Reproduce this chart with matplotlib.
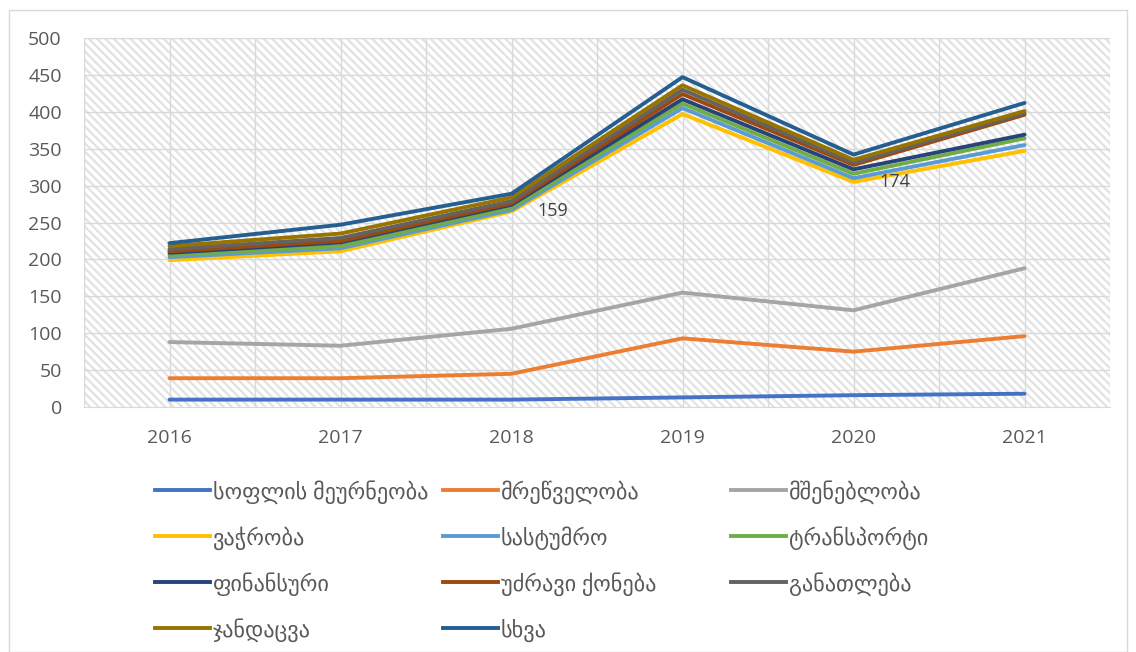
import numpy as np
import matplotlib
matplotlib.use("Agg")
import matplotlib.pyplot as plt
from matplotlib.lines import Line2D
from matplotlib.patches import Rectangle

plt.rcParams['font.family'] = ['Open Sans', 'DejaVu Sans']
plt.rcParams['hatch.color'] = '#e2e2e2'
plt.rcParams['hatch.linewidth'] = 1.6

# data (stacked line chart, values per sector)
years = ["2016", "2017", "2018", "2019", "2020", "2021"]
names = ["სოფლის მეურნეობა", "მრეწველობა", "მშენებლობა",
         "ვაჭრობა", "სასტუმრო", "ტრანსპორტი",
         "ფინანსური", "უძრავი ქონება", "განათლება",
         "ჯანდაცვა", "სხვა"]
agri = [10, 10, 10, 13, 16, 18]
industry = [29, 29, 35, 80, 59, 78]
construction = [49, 44, 61, 62, 56, 92]
trade = [111, 128, 159, 242, 174, 159]
hotels = [4, 4, 2, 8, 5, 8]
transport = [3, 3, 3, 6, 6, 9]
finance = [3, 5, 4, 6, 6, 5]
real_estate = [2, 2, 2, 7, 6, 27]
education = [3, 4, 3, 6, 3, 2]
health = [4, 6, 5, 6, 4, 3]
other = [4, 12, 5, 11, 7, 11]
series = [agri, industry, construction, trade, hotels, transport,
          finance, real_estate, education, health, other]
colors = ["#4472C4", "#ED7D31", "#A5A5A5", "#FFC000", "#5B9BD5", "#70AD47",
          "#264478", "#9E480E", "#636363", "#997300", "#255E91"]

# labels shown only for trade in 2018 and 2020
label_idx = [2, 4]

fig = plt.figure(figsize=(11.36, 6.52), dpi=100)
ax = fig.add_axes([84/1136, 1-407/652, (1110-84)/1136, (407-38)/652])

ax.patch.set_facecolor('white')
ax.patch.set_hatch('\\' * 4)
ax.patch.set_edgecolor('#e2e2e2')
ax.patch.set_linewidth(0)

x = np.arange(len(years))
cum = np.cumsum(np.array(series), axis=0)

for i in range(len(series)):
    ax.plot(x, cum[i], color=colors[i], lw=2.8, solid_capstyle='round', zorder=3)

for j in label_idx:
    ax.text(x[j] + 0.15, cum[3][j], str(trade[j]), fontsize=13,
            color='#404040', va='center', ha='left', zorder=4)

ax.set_xlim(-0.5, len(years) - 0.5)
ax.set_ylim(0, 500)
ax.set_yticks(np.arange(0, 501, 50))
ax.set_xticks(x)
ax.set_xticklabels(years)
for v in np.arange(50, 501, 50):
    ax.axhline(v, color='#d9d9d9', lw=1, zorder=1)
for v in np.arange(-0.5, len(years), 0.5):
    ax.axvline(v, color='#d9d9d9', lw=1, zorder=1)
for s in ['top', 'right', 'left']:
    ax.spines[s].set_visible(False)
ax.spines['bottom'].set_color('#d9d9d9')
ax.tick_params(length=0, labelsize=14, colors='#595959')
ax.tick_params(axis='x', pad=16)
ax.tick_params(axis='y', pad=16)

# legend, 3 equal columns like the original
for i, name in enumerate(names):
    row, col = divmod(i, 3)
    x0 = (155 + col * 288) / 1136
    yy = 1 - (490 + row * 46) / 652
    fig.add_artist(Line2D([x0, x0 + 55/1136], [yy, yy], color=colors[i], lw=2.8,
                          transform=fig.transFigure))
    fig.text(x0 + 58/1136, yy - 2/652, name, fontsize=16, color='#595959',
             va='center', ha='left')

fig.add_artist(Rectangle((9/1136, 0), 1118/1136, 1 - 10/652, fill=False,
                         edgecolor='#d9d9d9', lw=1, transform=fig.transFigure))

fig.savefig("out.png", dpi=100)
